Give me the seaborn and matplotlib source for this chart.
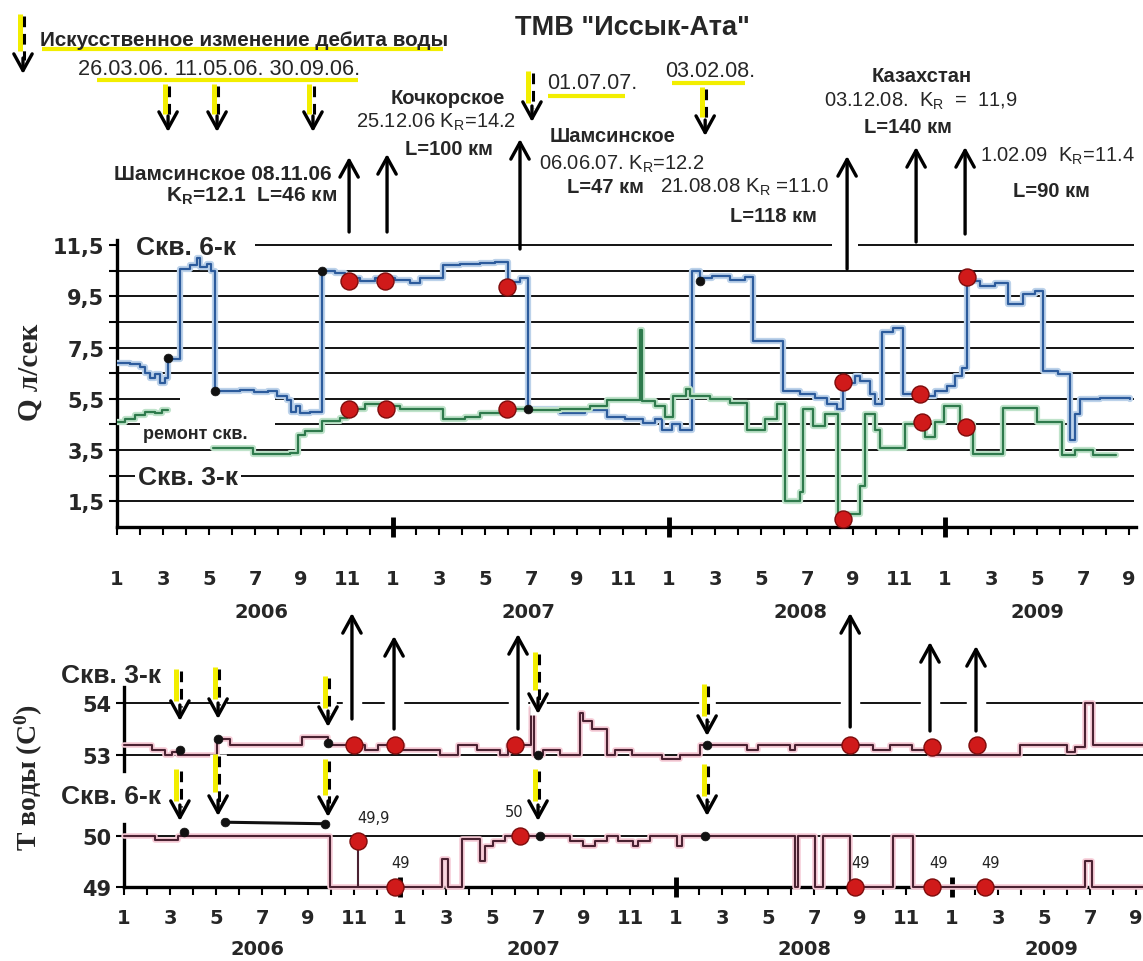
import matplotlib
matplotlib.use("Agg")
import matplotlib.pyplot as plt
import matplotlib.transforms as mtransforms
import matplotlib.patheffects as pe
import numpy as np
import seaborn as sns

# ---------------- data (months counted from 1 Jan 2006) ----------------
q6_month = [0.00, 0.57, 1.00, 1.22, 1.43, 1.65, 1.87, 2.09, 2.22, 2.74,
            3.17, 3.48, 3.61, 3.91, 4.09, 4.26, 5.35, 5.96, 6.57, 6.96,
            7.39, 7.57, 7.78, 7.96, 8.39, 8.91, 9.48, 9.91, 10.57, 11.22,
            12.09, 12.74, 13.17, 14.17, 14.91, 15.78, 16.43, 17.00, 17.52, 17.87,
            19.26, 20.35, 21.30, 22.09, 22.87, 23.39, 23.70, 24.13, 24.48, 25.00,
            25.35, 25.87, 26.65, 27.30, 27.65, 28.96, 29.70, 30.35, 30.87, 31.30,
            31.57, 32.09, 32.30, 32.74, 32.96, 33.26, 33.74, 34.17, 34.91, 35.57,
            36.09, 36.43, 36.74, 36.96, 37.52, 38.17, 38.74, 39.39, 39.91, 40.26,
            40.91, 41.43, 41.65, 41.87, 42.74, 44.04]
q6_value = [6.90, 6.85, 6.75, 6.50, 6.30, 6.45, 6.10, 6.30, 7.05, 10.55,
            10.70, 11.00, 10.65, 10.75, 10.50, 5.80, 5.85, 5.75, 5.80, 5.60,
            5.45, 5.00, 5.20, 4.95, 5.00, 10.50, 10.40, 10.20, 10.10, 10.20,
            10.15, 10.00, 10.20, 10.70, 10.75, 10.80, 10.85, 10.05, 10.20, 5.10,
            4.95, 5.05, 4.80, 4.70, 4.55, 4.70, 4.30, 4.50, 4.30, 10.50,
            10.20, 10.30, 10.15, 10.25, 7.75, 5.80, 5.70, 5.55, 5.30, 5.10,
            6.10, 6.40, 6.20, 5.70, 5.30, 8.10, 8.25, 5.70, 5.60, 5.80,
            6.00, 6.40, 6.70, 10.10, 9.90, 10.00, 9.20, 9.60, 9.70, 6.60,
            6.45, 3.90, 4.90, 5.50, 5.55, 5.50]

q3a_month = [0.00, 0.35, 0.78, 1.22, 1.65, 1.96, 2.22]
q3a_value = [4.60, 4.70, 4.85, 5.00, 4.95, 5.05, 5.05]
q3b_month = [4.17, 5.91, 7.52, 7.87, 8.17, 8.91, 9.70, 10.00, 10.78, 11.43,
             12.30, 14.17, 15.13, 15.78, 17.00, 17.96, 19.26, 20.57, 21.30, 22.74,
             22.83, 23.39, 23.83, 24.17, 24.74, 24.91, 25.78, 26.65, 27.39, 28.17,
             28.70, 29.04, 29.70, 29.83, 30.26, 30.78, 31.35, 32.30, 32.52, 32.96,
             33.17, 34.26, 35.13, 35.57, 35.96, 36.65, 37.22, 38.52, 40.00, 41.09,
             41.65, 42.43, 43.43]
q3b_value = [3.60, 3.35, 3.40, 4.10, 4.25, 4.65, 4.75, 5.10, 5.30, 5.20,
             5.10, 4.70, 4.80, 4.95, 5.10, 5.05, 5.10, 5.20, 5.45, 8.20,
             5.40, 5.20, 4.80, 5.60, 5.90, 5.60, 5.50, 5.35, 4.30, 4.70,
             5.30, 1.50, 1.85, 5.10, 4.45, 4.90, 1.00, 2.10, 4.90, 4.30,
             3.60, 4.50, 4.00, 4.60, 5.20, 4.50, 3.35, 5.15, 4.60, 3.30,
             3.50, 3.30, 3.30]

t3_month = [0.00, 1.22, 1.78, 2.09, 2.35, 4.04, 4.61, 7.74, 8.87, 10.48,
            11.04, 12.13, 13.74, 14.52, 15.35, 16.35, 16.70, 17.70, 17.83, 18.22,
            18.96, 19.83, 19.96, 20.35, 21.00, 21.35, 22.09, 23.39, 24.17, 25.04,
            27.09, 27.57, 28.96, 29.17, 32.57, 33.30, 34.26, 35.04, 38.96, 41.00,
            41.35, 41.78, 42.13, 44.30]
t3_value = [53.20, 53.10, 53.00, 53.05, 53.00, 53.30, 53.20, 53.35, 53.20, 53.10,
            53.20, 53.10, 53.00, 53.20, 53.10, 53.00, 53.20, 53.90, 53.00, 53.10,
            53.00, 53.80, 53.65, 53.50, 53.00, 53.10, 53.00, 52.92, 53.00, 53.20,
            53.10, 53.20, 53.10, 53.20, 53.10, 53.20, 53.10, 53.00, 53.20, 53.05,
            53.15, 54.00, 53.20, 53.20]

t6_month = [0.00, 1.35, 2.35, 8.96, 13.83, 14.09, 14.70, 15.48, 15.70, 16.04,
            16.57, 19.39, 19.96, 20.48, 21.00, 21.48, 22.13, 22.35, 22.87, 24.04,
            24.26, 29.17, 29.30, 30.04, 30.39, 31.57, 33.43, 34.30, 41.78, 42.09,
            44.30]
t6_value = [50.00, 49.92, 50.00, 49.00, 49.55, 49.00, 49.95, 49.50, 49.80, 49.90,
            50.00, 49.90, 49.80, 49.90, 50.00, 49.90, 49.80, 49.90, 50.00, 49.80,
            50.00, 49.00, 50.00, 49.00, 50.00, 49.00, 50.00, 49.00, 49.50, 49.00,
            49.00]

# event markers
q_red_month = [10.09, 11.65, 16.96, 10.09, 11.70, 16.96, 31.57, 31.57, 34.91, 35.00, 36.96, 36.91]
q_red_value = [10.10, 10.10, 9.85, 5.10, 5.10, 5.10, 6.15, 0.80, 5.70, 4.60, 10.25, 4.40]
q_black_month = [2.22, 4.26, 8.91, 17.87, 25.35]
q_black_value = [7.10, 5.80, 10.50, 5.10, 10.10]

t3_red_month = [10.00, 11.78, 17.00, 31.57, 35.13, 37.09]
t3_red_value = [53.20, 53.20, 53.20, 53.20, 53.15, 53.20]
t3_black_month = [2.43, 4.09, 8.87, 18.00, 25.35]
t3_black_value = [53.10, 53.30, 53.23, 53.00, 53.20]

t6_red_month = [10.17, 11.78, 17.22, 31.78, 35.13, 37.43]
t6_red_value = [49.90, 49.00, 50.00, 49.00, 49.00, 49.00]
t6_red_labels = ["49,9", "49", "50", "49", "49", "49"]
t6_black_month = [2.61, 4.39, 8.74, 18.09, 25.26]
t6_black_value = [50.08, 50.27, 50.24, 50.00, 50.00]

# earthquakes (up arrows) and artificial discharge changes (down arrows)
quake_month_q = [10.09, 11.74, 17.52, 31.74, 34.74, 36.87]
quake_month_t = [9.91, 11.74, 17.13, 31.57, 35.04, 37.04]
change_month_q = [2.22, 4.35, 8.52, 18.04, 25.57]
change_month_t = [2.43, 4.09, 8.87, 18.00, 25.35]

month_labels = ["1", "3", "5", "7", "9", "11"] * 3 + ["1", "3", "5", "7", "9"]
year_labels = ["2006", "2007", "2008", "2009"]
year_start = [12, 24, 36]
q_major = [1.5, 3.5, 5.5, 7.5, 9.5, 11.5]
q_major_labels = ["1,5", "3,5", "5,5", "7,5", "9,5", "11,5"]
q_minor = [2.5, 4.5, 6.5, 8.5, 10.5]

# ---------------- layout helpers ----------------
W, H = 1143, 962
def fx(px):
    return px / W
def fy(py):
    return 1 - py / H

sns.set_theme(style="white")
plt.rcParams["font.family"] = ["Liberation Sans", "DejaVu Sans"]
plt.rcParams["mathtext.default"] = "regular"
plt.rcParams["axes.edgecolor"] = "black"

fig = plt.figure(figsize=(W / 100, H / 100), dpi=100)
fig.patch.set_facecolor("white")

ax_q = fig.add_axes([fx(117), fy(528), 1019 / W, (528 - 240.8) / H])
ax_t3 = fig.add_axes([fx(124), fy(772), 1019 / W, 84 / H])
ax_t6 = fig.add_axes([fx(124), fy(888), 1019 / W, 63 / H])

TICKFONT = dict(fontfamily="DejaVu Sans", fontweight="bold", fontsize=14)

for ax in (ax_q, ax_t3, ax_t6):
    ax.set_facecolor("none")
    for s in ("top", "right"):
        ax.spines[s].set_visible(False)
    for s in ("left", "bottom"):
        ax.spines[s].set_linewidth(2.4)
        ax.spines[s].set_color("black")
ax_t3.spines["bottom"].set_visible(False)

GRID = dict(color="black", lw=1.3, zorder=1)
ax_q.hlines(q_minor + q_major[:-1], 0, 44.2, **GRID)
ax_q.hlines([11.5, 11.5], [6.0, 32.2], [31.1, 44.2], **GRID)
ax_t3.hlines([53, 54], 0, 44.3, **GRID)
ax_t6.hlines([50], 0, 44.3, **GRID)

# mask over the well-repair period
ax_q.add_patch(plt.Rectangle((fx(180), fy(446)), fx(275) - fx(180), fy(396) - fy(446),
                             transform=fig.transFigure, facecolor="white", edgecolor="none", zorder=2))

blue_fx = [pe.Stroke(linewidth=4.5, foreground="#bcd2ea"), pe.Normal()]
green_fx = [pe.Stroke(linewidth=4.5, foreground="#bfe3ca"), pe.Normal()]
temp_fx = [pe.Stroke(linewidth=4.0, foreground="#f6cbd6"), pe.Normal()]

sns.lineplot(x=q6_month, y=q6_value, ax=ax_q, color="#2c5b9c", lw=1.6, drawstyle="steps-post",
             estimator=None, sort=False, path_effects=blue_fx, zorder=3)
sns.lineplot(x=q3a_month, y=q3a_value, ax=ax_q, color="#2e7a4c", lw=1.6, drawstyle="steps-post",
             estimator=None, sort=False, path_effects=green_fx, zorder=3)
sns.lineplot(x=q3b_month, y=q3b_value, ax=ax_q, color="#2e7a4c", lw=1.6, drawstyle="steps-post",
             estimator=None, sort=False, path_effects=green_fx, zorder=3)

sns.lineplot(x=t3_month, y=t3_value, ax=ax_t3, color="#4b2232", lw=1.5, drawstyle="steps-post",
             estimator=None, sort=False, path_effects=temp_fx, zorder=3, clip_on=False)
sns.lineplot(x=t6_month, y=t6_value, ax=ax_t6, color="#4b2232", lw=1.5, drawstyle="steps-post",
             estimator=None, sort=False, path_effects=temp_fx, zorder=3, clip_on=False)
ax_t6.vlines(t6_red_month[0], 49, t6_red_value[0], color="#4b2232", lw=1.5, zorder=3)
ax_t6.plot(t6_black_month[1:3], t6_black_value[1:3], color="#111111", lw=2.2, zorder=4,
           solid_capstyle="butt", clip_on=False)

RED = dict(s=150, color="#d01a1a", edgecolor="#7d0c0c", linewidth=1.0, zorder=6, legend=False, clip_on=False)
BLK = dict(s=40, color="#111111", edgecolor="#111111", zorder=6, legend=False, clip_on=False)
sns.scatterplot(x=q_red_month, y=q_red_value, ax=ax_q, **RED)
sns.scatterplot(x=q_black_month, y=q_black_value, ax=ax_q, **BLK)
sns.scatterplot(x=t3_red_month, y=t3_red_value, ax=ax_t3, **RED)
sns.scatterplot(x=t3_black_month, y=t3_black_value, ax=ax_t3, **BLK)
sns.scatterplot(x=t6_red_month, y=t6_red_value, ax=ax_t6, **RED)
sns.scatterplot(x=t6_black_month, y=t6_black_value, ax=ax_t6, **BLK)
for m, v, lab in zip(t6_red_month, t6_red_value, t6_red_labels):
    dx = 16 if lab == "49,9" else (-6 if lab == "50" else 6)
    ax_t6.annotate(lab, (m, v), xytext=(dx, 24), textcoords="offset pixels", ha="center", va="center",
                   fontsize=10.5, fontfamily="DejaVu Sans", color="#222222", annotation_clip=False)

# ---------------- axes limits, ticks ----------------
ax_q.set_xlim(0, 44.3)
ax_q.set_ylim(0.5, 11.7)
ax_t3.set_xlim(0, 44.3)
ax_t3.set_ylim(52.69, 54.31)
ax_t6.set_xlim(0, 44.3)
ax_t6.set_ylim(49.0, 50.235)

for ax, pad in ((ax_q, 24), (ax_t6, 9)):
    ax.set_xticks(np.arange(0, 45, 2))
    ax.set_xticklabels(month_labels, **TICKFONT)
    ax.set_xticks(np.arange(0, 45), minor=True)
    ax.tick_params(axis="x", which="both", bottom=True, direction="out", length=6, width=1.5, color="black")
    ax.tick_params(axis="x", which="major", pad=pad)
    ax.vlines(year_start, -0.035 if ax is ax_q else -0.16, 0.035 if ax is ax_q else 0.16,
              transform=ax.get_xaxis_transform(), color="black", lw=3.5, clip_on=False)
ax_t3.set_xticks([])

ax_q.set_yticks(q_major)
ax_q.set_yticklabels(q_major_labels, fontfamily="DejaVu Sans", fontweight="bold", fontsize=15)
ax_q.set_yticks(q_minor, minor=True)
ax_t3.set_yticks([53, 54])
ax_t3.set_yticklabels(["53", "54"], fontfamily="DejaVu Sans", fontweight="bold", fontsize=15)
ax_t6.set_yticks([49, 50])
ax_t6.set_yticklabels(["49", "50"], fontfamily="DejaVu Sans", fontweight="bold", fontsize=15)
for ax in (ax_q, ax_t3, ax_t6):
    ax.tick_params(axis="y", which="both", left=True, direction="out", length=6, width=1.5,
                   color="black", pad=3)
    ax.set_xlabel("")
    ax.set_ylabel("")

# labels on the discharge panel
ax_q.text(fx(186), fy(248), "Скв. 6-к", transform=fig.transFigure, ha="center", va="center",
          fontsize=19, fontweight="bold", zorder=4)
ax_q.text(fx(188), fy(478), "Скв. 3-к", transform=fig.transFigure, ha="center", va="center",
          fontsize=19, fontweight="bold", zorder=4,
          bbox=dict(facecolor="white", edgecolor="none", pad=2))
ax_q.text(fx(195), fy(435), "ремонт скв.", transform=fig.transFigure, ha="center", va="center",
          fontsize=13, fontweight="bold", zorder=4,
          bbox=dict(facecolor="white", edgecolor="none", pad=2))

fig.text(fx(30), fy(372), "Q л/сек", rotation=90, ha="center", va="center",
         fontfamily="Liberation Serif", fontweight="bold", fontsize=21)
fig.text(fx(29), fy(778), "Т воды (С$^0$)", rotation=90, ha="center", va="center",
         fontfamily="Liberation Serif", fontweight="bold", fontsize=20)

# ---------------- overlay: arrows and annotations ----------------
ov = fig.add_axes([0, 0, 1, 1], zorder=10)
ov.set_axis_off()
ov.set_xlim(0, 1)
ov.set_ylim(0, 1)
ov.set_autoscale_on(False)
ov.patch.set_visible(False)

tq = mtransforms.blended_transform_factory(ax_q.transData, fig.transFigure)
tt = mtransforms.blended_transform_factory(ax_t6.transData, fig.transFigure)
tf = fig.transFigure

HEAD = "->,head_length=0.6,head_width=0.33"

def head(trans, m, y_from, y_to, lw=2.4):
    ov.annotate("", xy=(m, fy(y_to)), xytext=(m, fy(y_from)), xycoords=trans, textcoords=trans,
                arrowprops=dict(arrowstyle=HEAD, lw=lw, color="black", shrinkA=0, shrinkB=0,
                                mutation_scale=20), annotation_clip=False, zorder=3)

def up_arrow(trans, m, y_bottom, y_tip, mask=False):
    if mask:
        ov.plot([m, m], [fy(y_bottom), fy(y_tip + 4)], transform=trans, color="white", lw=14,
                solid_capstyle="butt", zorder=1)
    head(trans, m, y_bottom, y_tip)

def change_arrow(trans, m, y_top, y_tip, mask=False):
    L = y_tip - y_top
    if mask:
        ov.plot([m, m], [fy(y_top), fy(y_tip + 1)], transform=trans, color="white", lw=12,
                solid_capstyle="butt", zorder=1)
    left = mtransforms.offset_copy(trans, fig=fig, x=-3.5, y=0, units="dots")
    right = mtransforms.offset_copy(trans, fig=fig, x=1.0, y=0, units="dots")
    ov.plot([m, m], [fy(y_top), fy(y_top + 0.62 * L)], transform=left, color="#f2ee00", lw=3.6,
            solid_capstyle="butt", zorder=2)
    ov.plot([m, m], [fy(y_top + 2), fy(y_tip - 14)], transform=right, color="black", lw=2.2,
            dashes=(3.5, 2.2), solid_capstyle="butt", zorder=3)
    head(trans, m, y_tip - 16, y_tip)

# legend arrow
change_arrow(tf, fx(23), 15, 75)

# upper panel arrows
for m, yb, yt, mk in zip(quake_month_q, [233, 233, 250, 270, 243, 235], [158, 155, 140, 157, 148, 148],
                         [False, False, False, True, False, False]):
    up_arrow(tq, m, yb, yt, mask=mk)
for m, y0, y1 in zip(change_month_q, [85, 85, 85, 72, 88], [133, 133, 133, 123, 137]):
    change_arrow(tq, m, y0, y1)

# lower panel arrows
for m, yb, yt in zip(quake_month_t, [720, 730, 730, 728, 732, 732], [614, 637, 635, 614, 643, 647]):
    up_arrow(tt, m, yb, yt, mask=True)
for m, y0, y1 in zip(change_month_t, [670, 668, 677, 653, 685], [722, 720, 728, 715, 737]):
    change_arrow(tt, m, y0, y1, mask=True)
for m, y0, y1 in zip(change_month_t, [770, 755, 760, 770, 765], [822, 817, 818, 822, 817]):
    change_arrow(tt, m, y0, y1, mask=True)

# yellow underlines
YEL = dict(color="#f2ee00", lw=3, solid_capstyle="butt", transform=tf, zorder=1)
ov.plot([fx(42), fx(443)], [fy(50), fy(50)], **YEL)
ov.plot([fx(97), fx(358)], [fy(81), fy(81)], **YEL)
ov.plot([fx(548), fx(625)], [fy(97), fy(97)], **YEL)
ov.plot([fx(672), fx(745)], [fy(84), fy(84)], **YEL)

texts = [
    (40, 46, "Искусственное изменение дебита воды", "left", 14.9, "bold"),
    (78, 75, "26.03.06. 11.05.06. 30.09.06.", "left", 15.7, "normal"),
    (632, 35, 'ТМВ "Иссык-Ата"', "center", 19.5, "bold"),
    (547, 89, "01.07.07.", "left", 15.5, "normal"),
    (665, 77, "03.02.08.", "left", 15.5, "normal"),
    (448, 104, "Кочкорское", "center", 14.5, "bold"),
    (436, 128, "25.12.06 K$_R$=14.2", "center", 14.5, "normal"),
    (449, 155, "L=100 км", "center", 14.5, "bold"),
    (332, 180, "Шамсинское 08.11.06", "right", 15, "bold"),
    (337, 202, "K$_R$=12.1  L=46 км", "right", 15, "bold"),
    (613, 142, "Шамсинское", "center", 14.5, "bold"),
    (622, 170, "06.06.07. K$_R$=12.2", "center", 14.5, "normal"),
    (605, 193, "L=47 км", "center", 14.5, "bold"),
    (745, 193, "21.08.08 K$_R$ =11.0", "center", 14.8, "normal"),
    (773, 222, "L=118 км", "center", 14.5, "bold"),
    (922, 82, "Казахстан", "center", 14.5, "bold"),
    (921, 107, "03.12.08.  K$_R$  =  11,9", "center", 14.5, "normal"),
    (908, 133, "L=140 км", "center", 14.5, "bold"),
    (1058, 162, "1.02.09  K$_R$=11.4", "center", 14.5, "normal"),
    (1051, 197, "L=90 км", "center", 14.5, "bold"),
]
for x, y, s, ha, size, weight in texts:
    ov.text(fx(x), fy(y), s, transform=tf, ha=ha, va="baseline", fontsize=size, fontweight=weight,
            zorder=4)

ov.text(fx(111), fy(676), "Скв. 3-к", transform=tf, ha="center", va="center", fontsize=19,
        fontweight="bold", zorder=4)
ov.text(fx(111), fy(797), "Скв. 6-к", transform=tf, ha="center", va="center", fontsize=19,
        fontweight="bold", zorder=4)

for m, lab in zip([6.3, 17.9, 29.7, 40.0], year_labels):
    ov.text(m, fy(612), lab, transform=tq, ha="center", va="center", **TICKFONT)
for m, lab in zip([5.8, 17.8, 29.6, 40.3], year_labels):
    ov.text(m, fy(950), lab, transform=tt, ha="center", va="center", **TICKFONT)

fig.savefig("out.png", dpi=100)
